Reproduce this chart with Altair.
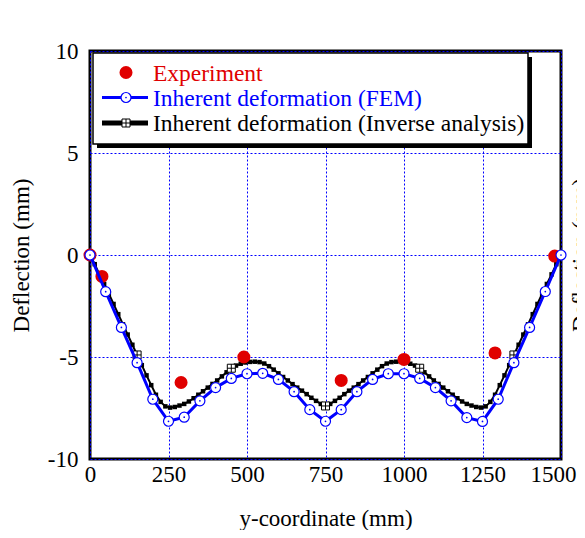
import altair as alt
import pandas as pd

FONT = "Liberation Serif"
RED = "#e00000"
BLUE = "#0000ff"

# ---- data ----
exp_x = [0, 38, 290, 490, 800, 1000, 1290, 1480]
exp_y = [0, -1.05, -6.25, -5.0, -6.15, -5.12, -4.8, -0.05]

fem_x = list(range(0, 1501, 50))
fem_y = [0, -1.8, -3.55, -5.28, -7.07, -8.15, -7.95, -7.15, -6.5, -6.05, -5.82,
         -5.8, -6.1, -6.7, -7.58, -8.15, -7.58, -6.7, -6.1, -5.82, -5.82,
         -6.05, -6.5, -7.15, -7.97, -8.16, -7.07, -5.28, -3.55, -1.79, 0]

inv_x = list(range(0, 1501, 15))
inv_y = [0, -0.45, -0.95, -1.42, -1.9, -2.4, -2.9, -3.4, -3.9, -4.4,
         -4.9, -5.4, -5.9, -6.38, -6.85, -7.2, -7.42, -7.48, -7.45, -7.38,
         -7.3, -7.18, -7.02, -6.85, -6.68, -6.5, -6.32, -6.15, -5.95, -5.75,
         -5.55, -5.42, -5.33, -5.27, -5.24, -5.23, -5.25, -5.32, -5.45, -5.62,
         -5.8, -5.98, -6.15, -6.33, -6.5, -6.65, -6.82, -7.0, -7.15, -7.3,
         -7.4,
         -7.3, -7.15, -7.0, -6.82, -6.65, -6.5, -6.33, -6.15, -5.98, -5.8,
         -5.62, -5.45, -5.32, -5.25, -5.23, -5.24, -5.27, -5.33, -5.42, -5.55,
         -5.75, -5.95, -6.15, -6.32, -6.5, -6.68, -6.85, -7.02, -7.18, -7.3,
         -7.38, -7.45, -7.48, -7.42, -7.2, -6.85, -6.38, -5.9, -5.4, -4.9,
         -4.4, -3.9, -3.4, -2.9, -2.4, -1.9, -1.42, -0.95, -0.45, 0]
inv_marker_x = [150, 450, 750, 1050, 1350]

x_ticks = [0, 250, 500, 750, 1000, 1250, 1500]
y_ticks = [-10, -5, 0, 5, 10]

legend_labels = ["Experiment", "Inherent deformation (FEM)",
                 "Inherent deformation (Inverse analysis)"]
legend_colors = [RED, BLUE, "black"]

x_title = "y-coordinate (mm)"
y_title = "Deflection (mm)"

# ---- tables ----
exp_df = pd.DataFrame({"x": exp_x, "y": exp_y})
fem_df = pd.DataFrame({"x": fem_x, "y": fem_y})
inv_df = pd.DataFrame({"x": inv_x, "y": inv_y})
mk_df = inv_df[inv_df["x"].isin(inv_marker_x)]
one = pd.DataFrame({"a": [0]})

xs = alt.Scale(domain=[0, 1500], nice=False, zero=False)
ys = alt.Scale(domain=[-10, 10], nice=False, zero=False)

X = alt.X("x:Q", scale=xs, axis=alt.Axis(
    values=x_ticks, title=x_title, titleX=235.5, titleY=66,
    titleBaseline="alphabetic", labelPadding=4, labelFlush=False,
    labelOverlap=False, labelExpr="datum.value + ''",
    labelOffset=alt.ExprRef("datum.value == 1500 ? -8 : 0")))
Y = alt.Y("y:Q", scale=ys, axis=alt.Axis(
    values=y_ticks, title=y_title, titleX=-62, titleY=204, titleAngle=270,
    titleBaseline="alphabetic", titleAlign="center", labelPadding=12,
    labelFlush=False, labelOverlap=False, labelExpr="datum.value + ''"))

inv_line = alt.Chart(inv_df).mark_line(color="black", strokeWidth=2).encode(x=X, y=Y)
inv_pts = alt.Chart(inv_df).mark_point(shape="square", filled=True, color="black",
                                       size=20, opacity=1).encode(x=X, y=Y)
box_path = "M-1,-1H1V1H-1Z M0,-1V1 M-1,0H1"
inv_mk = alt.Chart(mk_df).mark_point(shape=box_path, fill="white", stroke="black",
                                     strokeWidth=1, size=64, opacity=1,
                                     fillOpacity=1).encode(x=X, y=Y)
exp_pts = alt.Chart(exp_df).mark_circle(color=RED, size=170, opacity=1).encode(x=X, y=Y)
fem_line = alt.Chart(fem_df).mark_line(color=BLUE, strokeWidth=3).encode(x=X, y=Y)
fem_pts = alt.Chart(fem_df).mark_point(shape="circle", fill="white", stroke=BLUE,
                                       strokeWidth=1.2, size=100, opacity=1,
                                       fillOpacity=1).encode(x=X, y=Y)
fem_dot = alt.Chart(fem_df).mark_circle(color=BLUE, size=3, opacity=1).encode(x=X, y=Y)

# ---- legend (decoration) ----
shadow = alt.Chart(one).mark_rect(fill="black").encode(
    x=alt.value(7), x2=alt.value(442), y=alt.value(6), y2=alt.value(97))
box = alt.Chart(one).mark_rect(fill="white", stroke="black", strokeWidth=1.5).encode(
    x=alt.value(3), x2=alt.value(438), y=alt.value(2), y2=alt.value(93))

rows_y = [21.5, 46.5, 72]
leg = [shadow, box]
leg.append(alt.Chart(one).mark_circle(color=RED, size=170, opacity=1).encode(
    x=alt.value(36), y=alt.value(rows_y[0])))
leg.append(alt.Chart(one).mark_rule(color=BLUE, strokeWidth=3).encode(
    x=alt.value(12), x2=alt.value(58), y=alt.value(rows_y[1])))
leg.append(alt.Chart(one).mark_point(shape="circle", fill="white", stroke=BLUE,
                                     strokeWidth=1.2, size=100, opacity=1,
                                     fillOpacity=1).encode(
    x=alt.value(36), y=alt.value(rows_y[1])))
leg.append(alt.Chart(one).mark_circle(color=BLUE, size=3, opacity=1).encode(
    x=alt.value(36), y=alt.value(rows_y[1])))
leg.append(alt.Chart(one).mark_rule(color="black", strokeWidth=5).encode(
    x=alt.value(12), x2=alt.value(58), y=alt.value(rows_y[2])))
leg.append(alt.Chart(one).mark_point(shape=box_path, fill="white", stroke="black",
                                     strokeWidth=1, size=64, opacity=1,
                                     fillOpacity=1).encode(
    x=alt.value(36), y=alt.value(rows_y[2])))
for lab, col, ry in zip(legend_labels, legend_colors, rows_y):
    leg.append(alt.Chart(one).mark_text(text=lab, color=col, font=FONT, fontSize=23.5,
                                        align="left", baseline="middle").encode(
        x=alt.value(63), y=alt.value(ry + 1)))

right_title = alt.Chart(one).mark_text(text=y_title, font=FONT, fontSize=23, angle=270,
                                       align="center", baseline="alphabetic",
                                       color="black").encode(
    x=alt.value(498), y=alt.value(204))

chart = alt.layer(inv_line, inv_pts, inv_mk, exp_pts, fem_line, fem_pts, fem_dot,
                  *leg, right_title).properties(
    width=471, height=408,
    autosize=alt.AutoSizeParams(type="none"),
    padding={"left": 82, "top": 43, "right": 16, "bottom": 71},
).configure_view(stroke="black", strokeWidth=3).configure_axis(
    domain=False, ticks=False, tickSize=0,
    grid=True, gridColor=BLUE, gridDash=[2, 2], gridWidth=1, gridOpacity=1,
    labelFont=FONT, labelFontSize=23, labelColor="black",
    titleFont=FONT, titleFontSize=23, titleColor="black", titleFontWeight="normal",
)

chart.save("out.html", embed_options={"renderer": "svg", "actions": False})
